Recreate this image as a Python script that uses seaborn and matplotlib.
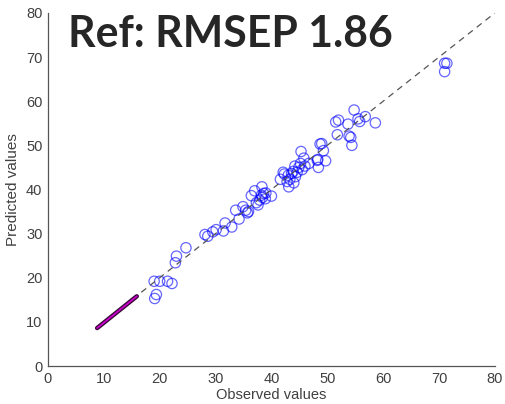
import matplotlib
matplotlib.use('Agg')
import matplotlib.pyplot as plt
import numpy as np
import pandas as pd
import seaborn as sns

# Observed / predicted values of the test set
observed = [
    19.0, 20.0, 21.4, 22.2, 19.4, 19.1, 22.8, 23.0, 24.7, 28.1,
    28.6, 29.5, 30.1, 31.4, 31.7, 32.9, 34.2, 33.6, 34.9, 35.4,
    35.7, 35.9, 36.4, 37.0, 37.6, 37.9, 38.2, 38.3, 38.6, 39.0,
    40.0, 38.9, 37.3, 38.4, 41.6, 42.1, 42.3, 43.1, 43.3, 43.6,
    43.9, 44.3, 44.6, 44.9, 45.2, 45.3, 45.8, 46.0, 46.7, 44.0,
    42.8, 45.5, 44.2, 43.0, 48.2, 48.4, 48.7, 49.0, 49.3, 49.7,
    48.3, 51.8, 53.9, 54.4, 54.2, 54.8, 52.0, 51.5, 53.7, 55.5,
    55.8, 56.8, 58.6, 71.0, 71.4, 71.0,
]
predicted = [
    19.2, 19.2, 19.2, 18.7, 16.2, 15.3, 23.4, 24.9, 26.8, 29.8,
    29.4, 30.4, 30.9, 30.6, 32.4, 31.5, 33.3, 35.3, 36.1, 35.3,
    34.7, 35.0, 38.6, 39.7, 36.5, 37.6, 38.7, 40.6, 39.1, 39.2,
    38.5, 37.9, 37.0, 38.2, 42.3, 43.9, 43.5, 40.6, 42.3, 43.6,
    44.1, 42.9, 43.9, 45.0, 45.9, 48.6, 47.1, 45.3, 45.9, 41.5,
    41.8, 44.5, 45.3, 43.2, 46.6, 45.0, 50.3, 50.4, 48.8, 46.5,
    46.8, 52.4, 52.1, 50.0, 51.8, 58.0, 55.7, 55.3, 54.8, 56.0,
    55.4, 56.5, 55.1, 68.6, 68.6, 66.7,
]

# Reference (calibration) samples lying on the diagonal
ref_x = [8.8, 15.9]
ref_y = [8.6, 15.8]

# 1:1 line
diag = [8.8, 80]

title_text = 'Ref: RMSEP 1.86'

df = pd.DataFrame({'Observed': observed, 'Predicted': predicted})

sns.set_style('white')
plt.rcParams['font.family'] = ['Liberation Sans', 'DejaVu Sans']

fig = plt.figure(figsize=(5.05, 4.04), dpi=100)
ax = fig.add_axes([0.095, 0.094, 0.885, 0.874])

sns.lineplot(x=diag, y=diag, ax=ax, color='#555555', linestyle=(0, (5, 4)),
             linewidth=0.9)
sns.lineplot(x=ref_x, y=ref_y, ax=ax, color='#3a0a3a', linewidth=3.2,
             solid_capstyle='round')
sns.lineplot(x=ref_x, y=ref_y, ax=ax, color='#d000d0', linewidth=1.2)
sns.scatterplot(data=df, x='Observed', y='Predicted', ax=ax, marker='o',
                s=55, facecolor='none', edgecolor='#0000ff', linewidth=0.9,
                alpha=0.6)

ax.set_xlim(0, 80)
ax.set_ylim(0, 80)
ax.set_xticks(range(0, 81, 10))
ax.set_yticks(range(0, 81, 10))
ax.set_xlabel('Observed values', fontsize=10.5, color='#404040', labelpad=2)
ax.set_ylabel('Predicted values', fontsize=11, color='#404040', labelpad=4)
ax.tick_params(direction='in', length=4, width=0.8, colors='#404040',
               labelsize=10.5, pad=4)
sns.despine(ax=ax)
for side in ('left', 'bottom'):
    ax.spines[side].set_color('#555555')
    ax.spines[side].set_linewidth(0.9)

fig.text(0.135, 0.884, title_text, fontsize=30.8, fontweight='bold',
         family=['Lato', 'DejaVu Sans'], va='baseline', ha='left')

fig.savefig('out.png', dpi=100)
